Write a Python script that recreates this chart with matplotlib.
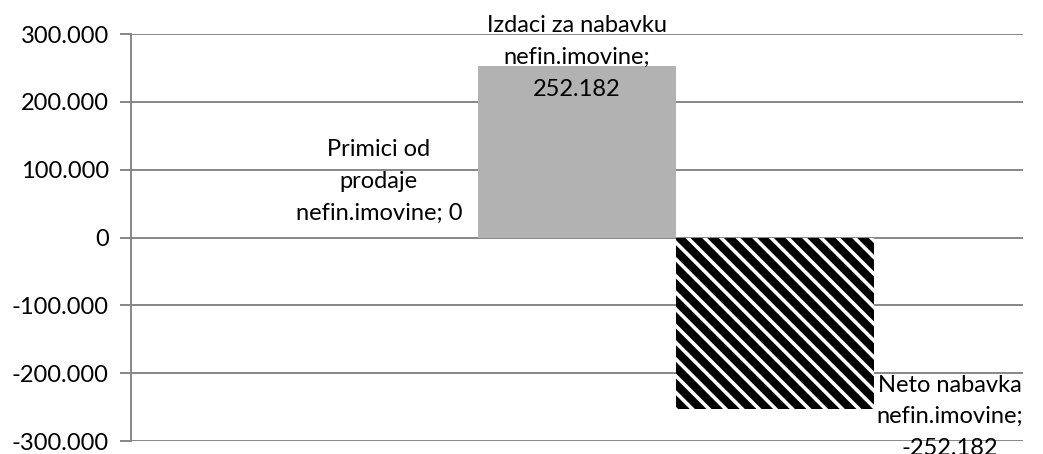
import matplotlib
matplotlib.use("Agg")
import matplotlib.pyplot as plt
from matplotlib.ticker import FuncFormatter

series_names = ["Primici od\nprodaje\nnefin.imovine;", "Izdaci za nabavku\nnefin.imovine;", "Neto nabavka\nnefin.imovine;"]
values = [0, 252182, -252182]
value_labels = ["0", "252.182", "-252.182"]
yticks = [-300000, -200000, -100000, 0, 100000, 200000, 300000]

plt.rcParams['font.family'] = ['Lato', 'DejaVu Sans']
plt.rcParams['hatch.linewidth'] = 2.6
plt.rcParams['hatch.color'] = 'white'

fig = plt.figure(figsize=(10.43, 4.54), dpi=100)
ax = fig.add_axes([0.1256, 0.0286, 0.855, 0.8964])

w = 0.222
offsets = [-w, 0, w]
ax.bar(offsets[0], values[0], width=w, color='#4f81bd', zorder=2)
ax.bar(offsets[1], values[1], width=w, color='#b2b2b2', zorder=2)
ax.bar(offsets[2], values[2], width=w, facecolor='black', edgecolor='white', hatch='\\\\', linewidth=0, zorder=2)

ax.set_xlim(-0.5, 0.5)
ax.set_ylim(-300000, 300000)
ax.set_yticks(yticks)
ax.yaxis.set_major_formatter(FuncFormatter(lambda v, p: f"{int(v):,}".replace(",", ".")))
ax.set_xticks([])
ax.grid(axis='y', color='#868686', linewidth=1.4, zorder=0)
for s in ['top', 'right', 'bottom']:
    ax.spines[s].set_visible(False)
ax.spines['left'].set_color('#868686')
ax.spines['left'].set_linewidth(1.4)
ax.tick_params(axis='y', length=8, width=1.4, color='#868686', labelsize=17, pad=8)

fs = 17
ls = 1.62
ax.annotate(f"{series_names[0]} {value_labels[0]}", (offsets[0], values[0]),
            xytext=(0, 56), textcoords='offset pixels', ha='center', va='center', fontsize=fs, linespacing=ls)
ax.annotate(f"{series_names[1]}\n{value_labels[1]}", (offsets[1], values[1]),
            xytext=(0, 9), textcoords='offset pixels', ha='center', va='center', fontsize=fs, linespacing=ls, zorder=5)
ax.annotate(f"{series_names[2]}\n{value_labels[2]}", (offsets[2] + w / 2, values[2]),
            xytext=(76, -8), textcoords='offset pixels', ha='center', va='center', fontsize=fs, linespacing=ls,
            annotation_clip=False)

fig.savefig("out.png", dpi=100)
